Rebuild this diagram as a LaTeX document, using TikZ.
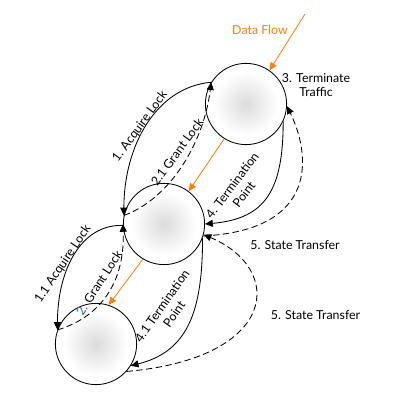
\documentclass[tikz,border=0pt]{standalone}
\usepackage{fontspec}
\setmainfont{Lato}
\usepackage{tikz}
\usetikzlibrary{arrows.meta}
\usetikzlibrary{positioning}
\definecolor{dataorange}{RGB}{250,128,20}
\definecolor{numblue}{RGB}{40,100,200}
\pgfdeclareradialshading{blob}{\pgfpoint{0cm}{0cm}}{color(0bp)=(black!14); color(7bp)=(black!9); color(20bp)=(white); color(50bp)=(white)}
\tikzstyle{state}=[draw,circle,shading=blob,minimum size=2.03cm,inner sep=0pt,line width=0.6pt]
\tikzstyle{lock}=[line width=0.6pt,-{Triangle[length=5.5pt,width=5pt]}]
\tikzstyle{back}=[lock,dash pattern=on 4.5pt off 2.5pt]
\tikzstyle{flow}=[draw=dataorange,line width=0.6pt,-{Triangle[length=5.5pt,width=5pt]}]
\tikzstyle{lbl}=[font=\fontsize{8.8}{10.5}\selectfont,align=center,inner sep=0pt]

\begin{document}
\begin{tikzpicture}[x=0.025cm,y=0.025cm]
	\useasboundingbox (0,0) rectangle (400,400);
	\node [state] (a) at (246,296) {};
	\node [state] (b) at (164,176) {};
	\node [state] (c) at (96,56) {};
	\coordinate (d) at (305,386);
	\draw [flow] (d) -- (a.55);
	\draw [flow] (a.-122) -- (b.53);
	\draw [flow] (b.-121) -- (c.72);
	\node [lbl,text=dataorange] (df) at (260,370) {Data Flow};
	\node [lbl] (tt) at (316,315) {3. Terminate\\Traffic};
	\draw [lock] (a.148) .. controls +(185:55) and +(90:70) .. (b.168);
	\draw [back] (b.168) .. controls +(20:50) and +(-97:60) .. (a.148);
	\draw [lock] (a.-25) .. controls +(-90:70) and +(5:60) .. (b.0);
	\draw [back] (b.-17) .. controls +(3:117) and +(-64:53) .. (a.-3);
	\draw [back] (c.-42) .. controls +(5:152) and +(-23:89) .. (b.-15);
	\draw [lock] (b.-20) .. controls +(-90:73) and +(14:59) .. (c.-32);
	\draw [lock] (b.182) .. controls +(178:42) and +(90:60) .. (c.160);
	\draw [back] (c.160) .. controls +(17:50) and +(-88:53) .. (b.180);
	\node [lbl,rotate=54] (al) at (140,273.5) {1. Acquire Lock};
	\node [lbl,rotate=54] (gl) at (177,248) {2.1 Grant Lock};
	\node [lbl,rotate=53] (tp) at (238,210) {4. Termination\\Point};
	\node [lbl] (st) at (295,155) {5. State Transfer};
	\node [lbl] (st2) at (315.5,85) {5. State Transfer};
	\node [lbl,rotate=56] (al2) at (63,136) {1.1 Acquire Lock};
	\node [lbl,rotate=57] (gl2) at (99,117) {{\color{numblue}2.} Grant Lock};
	\node [lbl,rotate=55] (tp2) at (168,90) {4.1 Termination\\Point};
\end{tikzpicture}
\end{document}
